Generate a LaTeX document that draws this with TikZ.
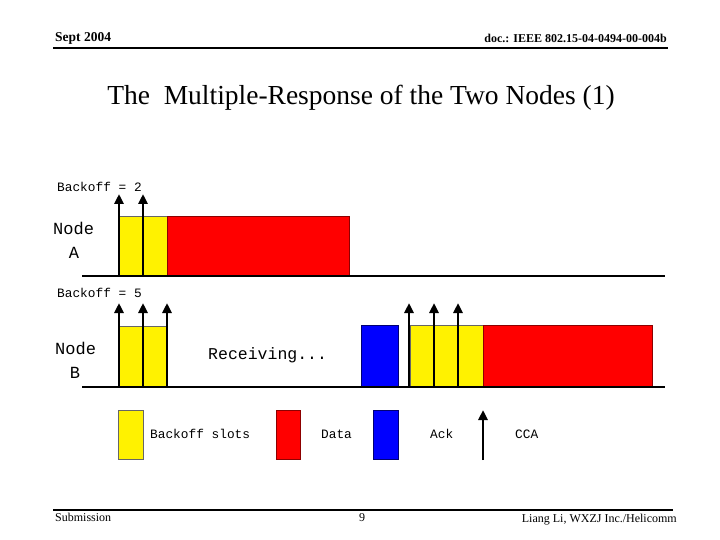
\documentclass[tikz,border=0pt]{standalone}
\usepackage{fontspec}
\setmainfont{Liberation Serif}
\setmonofont{Liberation Mono}
\usetikzlibrary{arrows.meta, positioning}

\begin{document}
\begin{tikzpicture}[
			x=1pt, y=-1pt,
			>={Triangle[length=10pt, width=9pt]},
			rule/.style={line width=1.6pt},
			timeline/.style={line width=2.8pt},
			slot/.style={draw=black!60, line width=0.6pt, fill=yellow},
			datablk/.style={draw=red!55!black, line width=0.6pt, fill=red},
			ackblk/.style={draw=blue!45!black, line width=0.6pt, fill=blue},
			cca/.style={->, line width=2.6pt},
			foot/.style={font=\fontsize{12}{14}\selectfont, inner sep=0pt},
			lbl/.style={font=\ttfamily\fontsize{12.8}{14}\selectfont, inner sep=0pt, anchor=west},
			nodename/.style={font=\ttfamily\fontsize{17}{19}\selectfont, inner sep=0pt}
			]
			\useasboundingbox (0,0) rectangle (720,540);
			
			% --- Naglowek i stopka ---
			\node[inner sep=0pt, font=\bfseries\fontsize{13.5}{15}\selectfont, anchor=base west] (date) at (55,42) {Sept 2004};
			\node[inner sep=0pt, font=\bfseries\fontsize{12}{14}\selectfont, anchor=base east] (doc) at (667,43) {doc.: IEEE 802.15-04-0494-00-004b};
			\draw[rule] (53,48) -- (668,48);
			\node[font=\fontsize{27.5}{32}\selectfont, inner sep=0pt] (title) at (361,98) {The~~Multiple-Response of the Two Nodes (1)};
			\draw[rule] (53,510) -- (673,510);
			\node[foot, anchor=base west] (submission) at (55,521) {Submission};
			\node[foot, anchor=base] (page) at (362,521) {9};
			\node[foot, anchor=base east] (author) at (677,522) {Liang Li, WXZJ Inc./Helicomm};
			
			% --- Wezel A ---
			\node[lbl] (backoffA) at (57,187) {Backoff = 2};
			\node[nodename, anchor=west] (nodeA) at (53,228) {Node};
			\node[nodename] (nameA) at (74,253) {A};
			\draw[slot] (119,216) rectangle (167,276);
			\draw[datablk] (167,216) rectangle (349,276);
			\draw[timeline] (82,276) -- (665,276);
			\foreach \x in {119,143}
				\draw[cca] (\x,276) -- (\x,194);
			
			% --- Wezel B ---
			\node[lbl] (backoffB) at (57,293) {Backoff = 5};
			\node[nodename, anchor=west] (nodeB) at (55,348) {Node};
			\node[nodename] (nameB) at (75,373) {B};
			\node[lbl, font=\ttfamily\fontsize{16.5}{18}\selectfont] (receiving) at (208,355) {Receiving...};
			\draw[slot] (119,326) rectangle (143,387);
			\draw[slot] (143,326) rectangle (167,387);
			\draw[ackblk] (361,325) rectangle (398,387);
			\draw[slot] (410,325) rectangle (483,387);
			\draw[datablk] (483,325) rectangle (652,387);
			\draw[timeline] (82,387) -- (665,387);
			\foreach \x in {119,143,167,409,434,458}
				\draw[cca] (\x,387) -- (\x,303);
			
			% --- Legenda ---
			\draw[slot] (118,410) rectangle (143,459);
			\node[lbl] (slotkey) at (150,434) {Backoff slots};
			\draw[datablk] (276,410) rectangle (300,459);
			\node[lbl] (datakey) at (321,434) {Data};
			\draw[ackblk] (373,410) rectangle (398,459);
			\node[lbl] (ackkey) at (430,434) {Ack};
			\draw[cca] (483,460) -- (483,410);
			\node[lbl] (ccakey) at (515,434) {CCA};
			
		\end{tikzpicture}
\end{document}
